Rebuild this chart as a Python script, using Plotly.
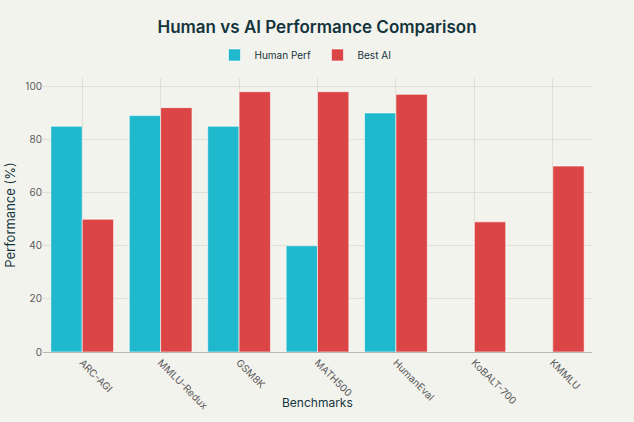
import plotly.graph_objects as go

benchmarks = ["ARC-AGI", "MMLU-Redux", "GSM8K", "MATH500", "HumanEval", "KoBALT-700", "KMMLU"]
human_perf = [85, 89, 85, 40, 90, None, None]
best_ai = [50, 92, 98, 98, 97, 49, 70]

fig = go.Figure()
fig.add_trace(go.Bar(x=benchmarks, y=human_perf, name="Human Perf",
                     marker=dict(color="#1FB8CD", line=dict(color="#FFFFFF", width=0.6))))
fig.add_trace(go.Bar(x=benchmarks, y=best_ai, name="Best AI",
                     marker=dict(color="#DB4545", line=dict(color="#FFFFFF", width=0.6))))

fig.update_layout(
    width=634,
    height=422,
    title=dict(text="Human vs AI Performance Comparison", x=0.5, y=0.935, xanchor="center",
               yanchor="middle", font=dict(size=17, color="#13343B", weight=600)),
    font=dict(family="Inter, Roboto, sans-serif", size=11, color="#13343B"),
    paper_bgcolor="#F3F3EE",
    plot_bgcolor="#F3F3EE",
    barmode="group",
    bargap=0.2,
    legend=dict(orientation="h", x=0.5, xanchor="center", y=1.084, yanchor="middle",
                itemwidth=30, entrywidth=58, font=dict(size=10)),
    margin=dict(l=43, r=42, t=78, b=70),
    xaxis=dict(tickangle=45, showgrid=True,
               gridcolor="#E2DED4", showline=True, linecolor="#B8B8B0", automargin=False,
               tickfont=dict(size=10, color="#5A5A5A")),
    yaxis=dict(title=dict(text="Performance (%)", standoff=6), showgrid=True, gridcolor="#E2DED4",
               zeroline=False, automargin=False, tickfont=dict(size=10, color="#5A5A5A")),
)

# x axis title placed as an annotation so it sits closer to the rotated labels
fig.add_annotation(text="Benchmarks", xref="paper", yref="paper", x=0.5, y=-0.186,
                   xanchor="center", yanchor="middle", showarrow=False,
                   font=dict(size=12, color="#13343B"))

fig.write_html("out.html", config={"displayModeBar": False},
               post_script="document.body.style.margin='0';")
